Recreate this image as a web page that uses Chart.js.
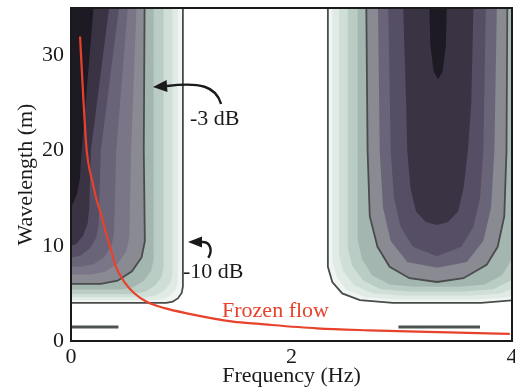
<!DOCTYPE html>
<html>
<head>
<meta charset="utf-8">
<script src="https://cdn.jsdelivr.net/npm/chart.js@4.4.1/dist/chart.umd.min.js"></script>
<style>
  html, body { margin: 0; padding: 0; background: #fff; }
  #wrap { width: 515px; height: 387px; }
</style>
</head>
<body>
<div id="wrap"><canvas id="chart" width="515" height="387"></canvas></div>
<script>
const xTicks = [0, 2, 4];
const yTicks = [0, 10, 20, 30];

// contour outlines as [frequency (Hz), wavelength (m)]
// low-frequency lobe, outer (-10 dB) to inner
const leftK = [[-0.5, 40], [1.015, 40], [1.015, 5.7], [1.004, 5.05], [0.971, 4.5], [0.923, 4.13], [0.865, 4.0], [-0.5, 4.0]];
const leftJ = [[-0.5, 40], [0.97, 40], [0.97, 6.3], [0.955, 5.53], [0.911, 4.89], [0.847, 4.45], [0.77, 4.3], [-0.5, 4.3]];
const leftI = [[-0.5, 40], [0.92, 40], [0.92, 7.0], [0.901, 6.08], [0.847, 5.3], [0.766, 4.78], [0.67, 4.6], [-0.5, 4.6]];
const leftH = [[-0.5, 40], [0.84, 40], [0.84, 7.75], [0.819, 6.68], [0.758, 5.77], [0.667, 5.16], [0.56, 4.95], [-0.5, 4.95]];
const leftG = [[-0.5, 40], [0.75, 40], [0.75, 8.6], [0.727, 7.37], [0.662, 6.34], [0.565, 5.64], [0.45, 5.4], [-0.5, 5.4]];
const leftF = [[-0.5, 40], [0.67, 40], [0.66, 20], [0.67, 10.5], [0.64, 8.78], [0.553, 7.32], [0.423, 6.34], [0.27, 6.0], [-0.5, 6.0]];
const leftE = [[-0.5, 40], [0.61, 40], [0.545, 20], [0.53, 11], [0.503, 9.47], [0.427, 8.17], [0.314, 7.3], [0.18, 7.0], [-0.5, 7.0]];
const leftD = [[-0.5, 40], [0.55, 40], [0.41, 20], [0.39, 11.3], [0.367, 9.96], [0.302, 8.83], [0.205, 8.07], [0.09, 7.8], [-0.5, 7.8]];
const leftC = [[-0.5, 40], [0.49, 40], [0.27, 20], [0.25, 12.2], [0.229, 10.86], [0.171, 9.73], [0.083, 8.97], [-0.02, 8.7], [-0.5, 8.7]];
const leftB = [[-0.5, 40], [0.4, 40], [0.18, 20], [0.165, 13.9], [0.151, 12.37], [0.109, 11.07], [0.048, 10.2], [-0.025, 9.9], [-0.5, 9.9]];
const leftA = [[-0.5, 40], [0.24, 40], [0.09, 19], [0.081, 17.09], [0.055, 15.47], [0.016, 14.38], [-0.03, 14.0], [-0.5, 14.0]];

// high-frequency lobe, outer (-10 dB) to inner
const rightK = [[2.33, 40], [2.33, 7.8], [2.37, 6.2], [2.46, 5.0], [2.62, 4.3], [2.92, 4.0], [3.72, 4.0], [4.02, 4.3], [4.18, 5.0], [4.27, 6.2], [4.31, 7.8], [4.31, 40]];
const rightJ = [[2.37, 40], [2.37, 8.4], [2.41, 6.7], [2.5, 5.35], [2.67, 4.6], [2.97, 4.35], [3.67, 4.35], [3.97, 4.6], [4.14, 5.35], [4.23, 6.7], [4.27, 8.4], [4.27, 40]];
const rightI = [[2.43, 40], [2.43, 9.1], [2.47, 7.3], [2.57, 5.85], [2.74, 5.0], [3.02, 4.75], [3.62, 4.75], [3.9, 5.0], [4.07, 5.85], [4.17, 7.3], [4.21, 9.1], [4.21, 40]];
const rightH = [[2.51, 40], [2.51, 9.8], [2.55, 7.9], [2.65, 6.35], [2.81, 5.45], [3.07, 5.2], [3.57, 5.2], [3.83, 5.45], [3.99, 6.35], [4.09, 7.9], [4.13, 9.8], [4.13, 40]];
const rightG = [[2.6, 40], [2.6, 10.6], [2.64, 8.6], [2.73, 6.9], [2.89, 5.95], [3.12, 5.7], [3.52, 5.7], [3.75, 5.95], [3.91, 6.9], [4.0, 8.6], [4.04, 10.6], [4.04, 40]];
const rightF = [[2.675, 40], [2.69, 20], [2.71, 13.1], [2.78, 9.9], [2.89, 7.8], [3.07, 6.6], [3.32, 6.2], [3.56, 6.6], [3.77, 8.0], [3.87, 9.9], [3.93, 13.1], [3.95, 20], [3.96, 40]];
const rightD = [[2.78, 40], [2.8, 20], [2.83, 14], [2.9, 10.5], [3.05, 8.3], [3.32, 7.7], [3.59, 8.3], [3.74, 10.5], [3.81, 14], [3.84, 20], [3.87, 40]];
const rightC = [[2.87, 40], [2.9, 20], [2.93, 15], [2.99, 12], [3.1, 9.9], [3.32, 8.9], [3.54, 9.9], [3.65, 12], [3.71, 15], [3.74, 20], [3.77, 40]];
const rightB = [[3.0, 40], [3.04, 25], [3.05, 20], [3.08, 16], [3.13, 13.6], [3.22, 12.5], [3.32, 12.2], [3.42, 12.5], [3.51, 13.6], [3.56, 16], [3.6, 20], [3.63, 25], [3.66, 40]];
const rightA = [[3.24, 40], [3.26, 31], [3.29, 28.3], [3.33, 27.5], [3.37, 28.3], [3.4, 31], [3.42, 40]];

// tiny closed contours near the bottom
const blipLeft = [[0, 1.47], [0.43, 1.47]];
const blipRight = [[2.97, 1.47], [3.71, 1.47]];

// frozen flow curve
const frozenFreq = [0.082, 0.11, 0.142, 0.197, 0.233, 0.281, 0.317, 0.363, 0.408, 0.49, 0.571, 0.686, 0.85, 1.05, 1.47, 1.71, 2.23, 2.7, 3.14, 3.6, 3.98];
const frozenWave = [32.0, 25.9, 20.1, 16.6, 14.8, 13.0, 11.35, 9.57, 7.78, 6.1, 5.05, 4.13, 3.45, 2.91, 2.03, 1.79, 1.33, 1.12, 0.98, 0.85, 0.74];

const bandColors = {
  K: '#f0f5f2', J: '#e1ebe6', I: '#cfdfd8', H: '#bacdc5', G: '#a4b6b0',
  F: '#8a8a93', E: '#7a7687', D: '#6a6479', C: '#554e64', B: '#3a3344', A: '#1e1a23'
};
const edgeLevels = ['K', 'F'];
const FONT = 'Liberation Serif';
const INK = '#1a1a1a';

const leftLevels = [['K', leftK], ['J', leftJ], ['I', leftI], ['H', leftH], ['G', leftG], ['F', leftF], ['E', leftE], ['D', leftD], ['C', leftC], ['B', leftB], ['A', leftA]];
const rightLevels = [['K', rightK], ['J', rightJ], ['I', rightI], ['H', rightH], ['G', rightG], ['F', rightF], ['D', rightD], ['C', rightC], ['B', rightB], ['A', rightA]];

function toXY(pts) {
  return pts.map(p => ({ x: p[0], y: p[1] }));
}

function contourSet(level, pts, order) {
  const edge = edgeLevels.includes(level);
  return {
    data: toXY(pts),
    backgroundColor: bandColors[level],
    borderColor: edge ? '#4a4c4c' : 'rgba(0,0,0,0)',
    borderWidth: edge ? 1.8 : 0.01,
    fill: 'shape',
    pointRadius: 0,
    tension: 0,
    clip: 0,
    order: order
  };
}

const datasets = [];
datasets.push({
  data: frozenFreq.map((f, i) => ({ x: f, y: frozenWave[i] })),
  borderColor: '#e8412c',
  borderWidth: 2.2,
  fill: false,
  pointRadius: 0,
  cubicInterpolationMode: 'monotone',
  clip: 0,
  order: 0
});
[blipLeft, blipRight].forEach(b => {
  datasets.push({
    data: toXY(b),
    borderColor: '#4e5352',
    borderWidth: 3,
    fill: false,
    pointRadius: 0,
    clip: 0,
    order: 1
  });
});
leftLevels.forEach((l, i) => datasets.push(contourSet(l[0], l[1], 100 - i)));
rightLevels.forEach((l, i) => datasets.push(contourSet(l[0], l[1], 100 - i)));

function px(scales, q) {
  return [scales.x.getPixelForValue(q[0]), scales.y.getPixelForValue(q[1])];
}

function drawArrow(ctx, scales, pts, headHalf) {
  const p = pts.map(q => px(scales, q));
  ctx.beginPath();
  ctx.moveTo(p[1][0], p[1][1]);
  ctx.bezierCurveTo(p[2][0], p[2][1], p[3][0], p[3][1], p[4][0], p[4][1]);
  ctx.stroke();
  const dx = p[0][0] - p[1][0], dy = p[0][1] - p[1][1];
  const len = Math.hypot(dx, dy);
  const nx = -dy / len * headHalf, ny = dx / len * headHalf;
  ctx.beginPath();
  ctx.moveTo(p[0][0], p[0][1]);
  ctx.lineTo(p[1][0] + nx, p[1][1] + ny);
  ctx.lineTo(p[1][0] - nx, p[1][1] - ny);
  ctx.closePath();
  ctx.fill();
}

const annotate = {
  id: 'annotate',
  afterDatasetsDraw(chart) {
    const { ctx, chartArea: a, scales } = chart;
    ctx.save();
    ctx.strokeStyle = INK;
    ctx.lineWidth = 2;
    ctx.strokeRect(a.left, a.top, a.right - a.left, a.bottom - a.top);

    ctx.fillStyle = INK;
    ctx.lineWidth = 2.4;
    drawArrow(ctx, scales, [[0.744, 26.7], [0.871, 26.8], [1.17, 27.22], [1.315, 26.8], [1.361, 24.91]], 6);
    drawArrow(ctx, scales, [[1.061, 10.41], [1.188, 10.41], [1.26, 10.45], [1.29, 9.6], [1.245, 8.75]], 5.5);

    ctx.font = '22px "' + FONT + '"';
    ctx.textAlign = 'left';
    ctx.textBaseline = 'alphabetic';
    let p = px(scales, [1.079, 22.7]);
    ctx.fillText('-3 dB', p[0], p[1]);
    p = px(scales, [1.016, 6.62]);
    ctx.fillText('-10 dB', p[0], p[1]);
    ctx.fillStyle = '#e8412c';
    p = px(scales, [1.37, 2.52]);
    ctx.fillText('Frozen flow', p[0], p[1]);
    ctx.restore();
  }
};

new Chart(document.getElementById('chart'), {
  type: 'line',
  data: { datasets },
  options: {
    responsive: false,
    animation: false,
    layout: { padding: { top: 8, right: 3, left: 0, bottom: 0 } },
    plugins: {
      legend: { display: false },
      tooltip: { enabled: false }
    },
    scales: {
      x: {
        type: 'linear',
        min: 0,
        max: 4,
        afterBuildTicks: s => { s.ticks = xTicks.map(v => ({ value: v })); },
        afterFit: s => { s.height = 46; s.paddingLeft = 0; s.paddingRight = 0; },
        grid: { display: false, drawTicks: false },
        border: { display: false },
        ticks: { color: INK, font: { family: FONT, size: 22 }, padding: 3, maxRotation: 0, autoSkip: false },
        title: { display: true, text: 'Frequency (Hz)', color: INK, font: { family: FONT, size: 22, lineHeight: 1 }, padding: 0 }
      },
      y: {
        type: 'linear',
        min: 0,
        max: 35,
        afterBuildTicks: s => { s.ticks = yTicks.map(v => ({ value: v })); },
        afterFit: s => { s.width = 71; s.paddingTop = 0; s.paddingBottom = 0; },
        grid: { display: false, drawTicks: false },
        border: { display: false },
        ticks: { color: INK, font: { family: FONT, size: 22 }, padding: 7 },
        title: { display: true, text: 'Wavelength (m)', color: INK, font: { family: FONT, size: 22, lineHeight: 1 }, padding: { top: 15, bottom: 0 } }
      }
    }
  },
  plugins: [annotate]
});
</script>
</body>
</html>
